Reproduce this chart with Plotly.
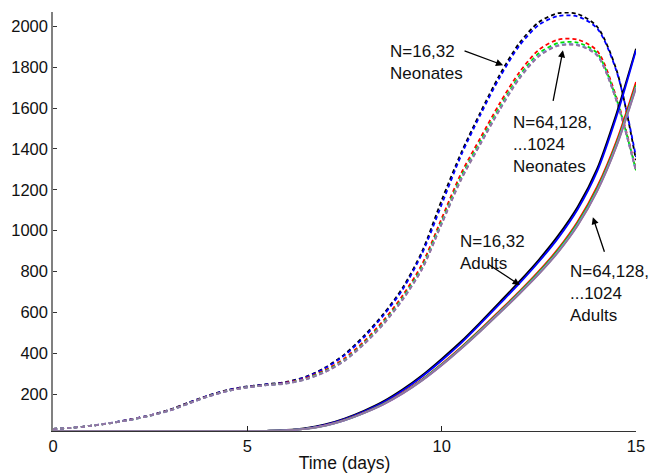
import plotly.graph_objects as go

t = [0, 0.5, 1, 1.5, 2, 2.5, 3, 3.5, 4, 4.5, 5, 5.5, 6, 6.5, 7, 7.5, 8, 8.5, 9, 9.5,
     10, 10.5, 11, 11.5, 12, 12.5, 13, 13.5, 14, 14.5, 15]

series_names = ["N=16", "N=32", "N=64", "N=128", "N=256", "N=512", "N=1024"]
colors = ["#000000", "#0000ff", "#ff0000", "#00dd00", "#00e0e0", "#e040e0", "#8c7b9c"]

neonates = [
    [30, 36, 46, 60, 77, 97, 124, 160, 194, 221, 238, 249, 260, 285, 330, 395, 485, 592, 722, 900,
     1149, 1380, 1580, 1765, 1918, 2020, 2064, 2060, 1998, 1785, 1345],
    [30, 36, 46, 60, 77, 97, 123, 159, 193, 220, 237, 248, 258, 283, 327, 390, 478, 585, 713, 890,
     1128, 1368, 1568, 1752, 1905, 2007, 2050, 2048, 1990, 1780, 1360],
    [30, 36, 46, 59, 76, 96, 122, 157, 191, 218, 235, 246, 256, 278, 318, 375, 458, 560, 684, 838,
     1060, 1280, 1455, 1625, 1775, 1885, 1935, 1935, 1880, 1650, 1300],
    [30, 36, 46, 59, 75, 95, 121, 156, 190, 217, 234, 245, 254, 275, 313, 368, 450, 550, 672, 824,
     1045, 1263, 1438, 1607, 1758, 1868, 1918, 1920, 1868, 1642, 1295],
    [30, 36, 46, 59, 75, 95, 120, 155, 189, 216, 233, 244, 253, 273, 310, 365, 446, 545, 666, 817,
     1037, 1254, 1429, 1598, 1749, 1858, 1908, 1910, 1860, 1637, 1292],
    [30, 36, 46, 59, 75, 95, 120, 155, 189, 216, 233, 244, 253, 273, 309, 364, 445, 543, 664, 814,
     1034, 1251, 1426, 1595, 1746, 1855, 1906, 1908, 1858, 1635, 1291],
    [30, 36, 46, 59, 75, 95, 120, 155, 189, 216, 233, 244, 252, 272, 308, 363, 444, 542, 663, 813,
     1032, 1249, 1424, 1593, 1744, 1853, 1905, 1907, 1857, 1634, 1290],
]

adults = [
    [20, 20, 20, 20, 20, 20, 20, 20, 20, 20, 20, 21, 25, 34, 52, 81, 119, 165, 224, 293,
     373, 458, 553, 652, 752, 858, 977, 1117, 1304, 1575, 1890],
    [20, 20, 20, 20, 20, 20, 20, 20, 20, 20, 20, 21, 24, 32, 50, 78, 115, 160, 218, 287,
     365, 450, 545, 643, 742, 848, 965, 1105, 1290, 1560, 1883],
    [20, 20, 20, 20, 20, 20, 20, 20, 20, 20, 20, 21, 23, 30, 47, 74, 110, 153, 208, 273,
     348, 430, 518, 610, 703, 802, 912, 1045, 1215, 1440, 1728],
    [20, 20, 20, 20, 20, 20, 20, 20, 20, 20, 20, 21, 23, 30, 46, 73, 109, 152, 206, 271,
     345, 427, 514, 605, 698, 796, 905, 1037, 1205, 1428, 1712],
    [20, 20, 20, 20, 20, 20, 20, 20, 20, 20, 20, 21, 23, 30, 46, 72, 108, 151, 205, 269,
     343, 424, 511, 601, 694, 791, 899, 1030, 1197, 1419, 1703],
    [20, 20, 20, 20, 20, 20, 20, 20, 20, 20, 20, 21, 23, 30, 46, 72, 108, 150, 204, 268,
     342, 423, 510, 600, 692, 789, 897, 1027, 1194, 1416, 1700],
    [20, 20, 20, 20, 20, 20, 20, 20, 20, 20, 20, 21, 23, 30, 45, 72, 107, 150, 203, 267,
     341, 422, 508, 598, 690, 787, 895, 1025, 1192, 1413, 1697],
]

x_ticks = [0, 5, 10, 15]
y_ticks = [200, 400, 600, 800, 1000, 1200, 1400, 1600, 1800, 2000]

fig = go.Figure()
for name, c, ys in zip(series_names, colors, neonates):
    fig.add_trace(go.Scatter(x=t, y=ys, mode="lines", name=name + " neonates",
                             line=dict(color=c, width=1.8, dash="4px,3px", shape="spline", smoothing=0.8),
                             showlegend=False))
for name, c, ys in zip(series_names, colors, adults):
    fig.add_trace(go.Scatter(x=t, y=ys, mode="lines", name=name + " adults",
                             line=dict(color=c, width=1.8, shape="spline", smoothing=0.8),
                             showlegend=False))

font = dict(family="Liberation Sans, Arial, sans-serif", size=16, color="#111111")
ann_font = dict(family="Liberation Sans, Arial, sans-serif", size=17, color="#111111")

texts = [
    ("N=16,32<br>Neonates", 8.62, 1935),
    ("N=64,128,<br>...1024<br>Neonates", 11.78, 1585),
    ("N=16,32<br>Adults", 10.42, 1005),
    ("N=64,128,<br>...1024<br>Adults", 13.24, 856),
]
for txt, xx, yy in texts:
    fig.add_annotation(x=xx, y=yy, xref="x", yref="y", text=txt, showarrow=False,
                       xanchor="left", yanchor="top", align="left", font=ann_font)

arrows = [
    (10.55, 1883, 11.58, 1810),
    (12.86, 1628, 13.12, 1883),
    (11.16, 841, 12.01, 734),
    (14.20, 890, 13.89, 1066),
]
for x0, y0, x1, y1 in arrows:
    fig.add_annotation(x=x1, y=y1, ax=x0, ay=y0, xref="x", yref="y", axref="x", ayref="y",
                       text="", showarrow=True, arrowhead=2, arrowsize=1.1, arrowwidth=1.3,
                       arrowcolor="#000000")

fig.update_layout(
    width=652, height=473,
    margin=dict(l=53, r=16, t=12, b=42),
    paper_bgcolor="white", plot_bgcolor="white",
    font=font,
    xaxis=dict(range=[0, 15], tickvals=x_ticks, ticks="inside", ticklen=5, tickcolor="#222222",
               showline=True, linecolor="#333333", linewidth=1, showgrid=False, zeroline=False,
               automargin=False,
               title=dict(text="Time (days)", standoff=3, font=dict(size=17.5)),
               tickfont=dict(size=16.5)),
    yaxis=dict(range=[20, 2070], tickvals=y_ticks, ticks="inside", ticklen=4, tickcolor="#333333",
               showline=True, linecolor="#808080", linewidth=1.5, showgrid=False, zeroline=False,
               automargin=False,
               tickfont=dict(size=16.5)),
)

fig.write_html("out.html")
